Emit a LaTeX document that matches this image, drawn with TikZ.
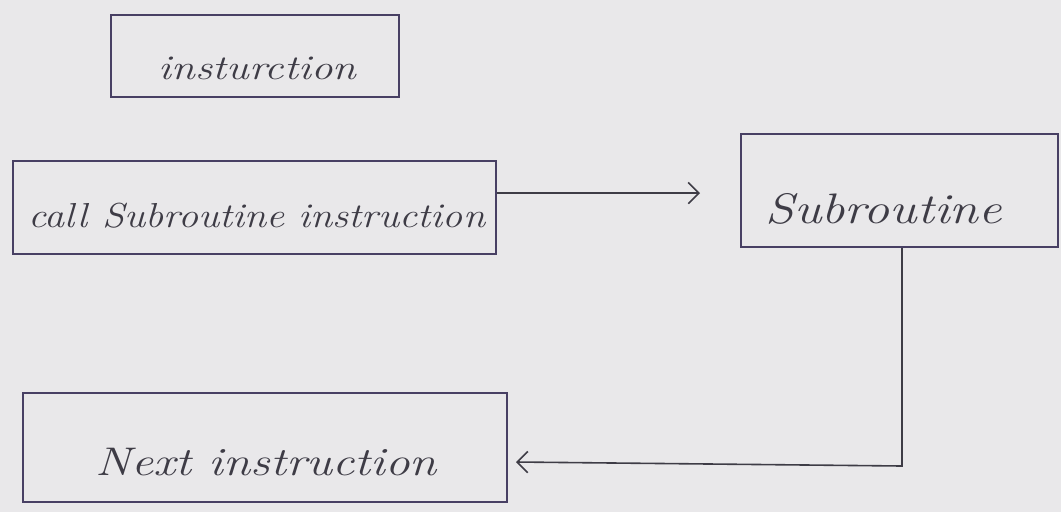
\documentclass[tikz,border=0pt]{standalone}
\usepackage{fontspec}
\usepackage{graphicx}
\setmainfont{Latin Modern Roman}
\usetikzlibrary{arrows.meta}
\definecolor{paper}{RGB}{233,232,234}
\definecolor{ink}{RGB}{72,64,100}
\definecolor{pencil}{RGB}{62,60,70}
\tikzset{
  box/.style={draw=ink, line width=1.4pt, rectangle, inner sep=0pt, anchor=north west},
  lbl/.style={inner sep=0pt, text=pencil, font=\itshape},
  link/.style={draw=pencil, line width=1.2pt, -{Straight Barb[length=8pt,width=16pt,line width=1.2pt]}}
}
\begin{document}
\begin{tikzpicture}[x=0.75pt,y=-0.75pt]
\fill[paper] (0,0) rectangle (1061,512);
\useasboundingbox (0,0) rectangle (1061,512);
\node[box, minimum width=216pt, minimum height=61.5pt] (ins) at (110,14) {};
\node[box, minimum width=362pt, minimum height=70pt] (call) at (12,160) {};
\node[box, minimum width=238pt, minimum height=85pt] (sub) at (740,133) {};
\node[box, minimum width=363pt, minimum height=82pt] (next) at (22,392) {};
\node[lbl, font=\itshape\fontsize{26}{30}\selectfont] (insT) at ([xshift=2pt,yshift=-9pt]ins.center) {\scalebox{1.24}[1]{insturction}};
\node[lbl, font=\itshape\fontsize{26}{30}\selectfont] (callT) at ([xshift=2pt,yshift=-6pt]call.center) {\scalebox{1.16}[1]{call Subroutine instruction}};
\node[lbl, font=\itshape\fontsize{32}{36}\selectfont] (subT) at ([xshift=-12pt,yshift=-14pt]sub.center) {\scalebox{1.22}[1]{Subroutine}};
\node[lbl, font=\itshape\fontsize{30}{34}\selectfont] (nextT) at ([xshift=1pt,yshift=-11pt]next.center) {\scalebox{1.23}[1]{Next instruction}};
\coordinate (a1) at (700,193);
\coordinate (c1) at (902,466);
\coordinate (a2) at (516,462);
\draw[link] (call.east |- a1) -- (a1);
\draw[link] (sub.south -| c1) -- (c1) -- (a2);
\end{tikzpicture}
\end{document}
